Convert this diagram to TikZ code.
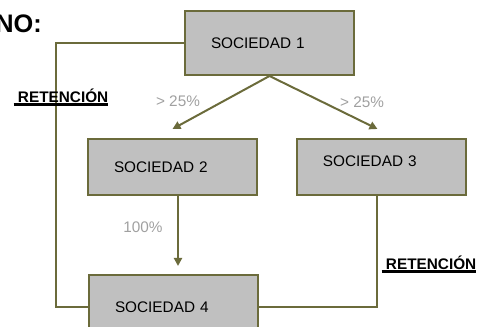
\documentclass[tikz,border=0pt]{standalone}
\usepackage{fontspec}
\setmainfont{Liberation Sans}
\usepackage{tikz}
\usetikzlibrary{arrows.meta,calc}
\definecolor{oliva}{RGB}{107,107,59}
\definecolor{cajagris}{RGB}{192,192,192}
\definecolor{textogris}{RGB}{160,160,160}
\newsavebox\subrbox
\newcommand\subrayado[1]{\sbox\subrbox{#1}\rlap{\rule[-2.6pt]{\wd\subrbox}{1.6pt}}\usebox\subrbox}

\tikzset{
  caja/.style={draw=oliva, fill=cajagris, line width=1.5pt, text width=87.75pt, inner xsep=19.5pt, inner ysep=0pt, align=left, minimum height=#1, font=\fontsize{11.5}{13}\selectfont},
  caja/.default=42pt,
  linea/.style={draw=oliva, line width=1.5pt},
  flecha/.style={linea, -{Triangle[width=6pt,length=6pt]}},
  porcentaje/.style={text=textogris, inner sep=0.75pt, font=\fontsize{11.5}{13}\selectfont},
  reten/.style={inner sep=0.75pt, font=\bfseries\fontsize{11.5}{13}\selectfont}
}

\begin{document}
\begin{tikzpicture}[x=0.75pt,y=0.75pt,yscale=-1,xscale=1]
\useasboundingbox (0,0) rectangle (480,327);

% Boxes
\node [caja=48pt] (s1) at (269.5,43) {SOCIEDAD 1};
\node [caja] (s2) at (172.5,167) {SOCIEDAD 2};
\node [caja, text depth=9pt] (s3) at (381.5,167) {SOCIEDAD 3};
\node [caja=48pt] (s4) at (173.5,307) {SOCIEDAD 4};

%Straight Lines
\draw [flecha] (s1.south) -- ($(s2.north)+(0,-9)$);
\draw [flecha] (s1.south) -- ($(s3.north)+(-4,-9)$);
\draw [flecha] ($(s2.south)+(5.5,0)$) -- ($(s4.north)+(4.5,-8)$);
%Retention lines
\draw [linea] (s1.west) -- ++(-128,0) |- (s4.west);
\draw [linea] ($(s3.south)+(-4.5,0)$) |- (s4.east);

% Text Node
\node [anchor=base east, inner sep=0pt, font=\bfseries\fontsize{19}{22}\selectfont] (titulo) at (42,33) {NO:};
% Text Node
\node [porcentaje] (p1) at (178,101) {> 25\%};
% Text Node
\node [porcentaje] (p2) at (362,102) {> 25\%};
% Text Node
\node [porcentaje] (p3) at (143,227) {100\%};
% Text Node
\node [reten] (r1) at (61,97) {\subrayado{\ RETENCIÓN}};
% Text Node
\node [reten] (r2) at (429,264) {\subrayado{\ RETENCIÓN}};

\end{tikzpicture}
\end{document}
